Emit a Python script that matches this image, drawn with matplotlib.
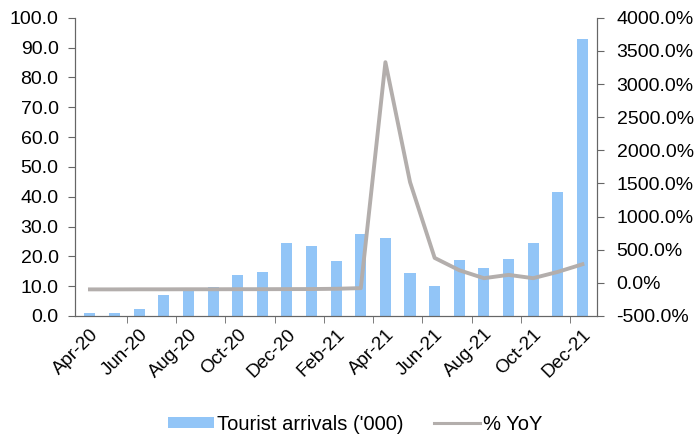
import numpy as np
import matplotlib.pyplot as plt
from matplotlib.ticker import FuncFormatter, FixedLocator

plt.rcParams['font.family'] = ['Liberation Sans', 'DejaVu Sans']

months = ['Apr-20', 'May-20', 'Jun-20', 'Jul-20', 'Aug-20', 'Sep-20', 'Oct-20',
          'Nov-20', 'Dec-20', 'Jan-21', 'Feb-21', 'Mar-21', 'Apr-21', 'May-21',
          'Jun-21', 'Jul-21', 'Aug-21', 'Sep-21', 'Oct-21', 'Nov-21', 'Dec-21']
arrivals = [1.0, 1.0, 2.3, 7.0, 9.0, 9.8, 13.7, 14.8, 24.3, 23.5, 18.3,
            27.5, 26.0, 14.5, 10.2, 18.8, 16.1, 19.0, 24.3, 41.5, 93.0]
yoy = [-99, -99, -98, -98, -97, -97, -96, -96, -95, -94, -90,
       -80, 3330, 1520, 376, 190, 70, 120, 70, 165, 280]

x = np.arange(len(months))
axis_grey = '#666666'

fig, ax = plt.subplots(figsize=(6.96, 4.45), dpi=100)
fig.subplots_adjust(left=0.108, right=0.858, top=0.96, bottom=0.29)

bars = ax.bar(x, arrivals, width=0.45, color='#92C5F7', label="Tourist arrivals ('000)", zorder=2)
ax.set_ylim(0, 100)
ax.set_yticks(np.arange(0, 101, 10))
ax.yaxis.set_major_formatter(FuncFormatter(lambda v, p: f'{v:.1f}'))
ax.set_xlim(-0.6, len(months) - 0.4)

# labels every other month, tick marks between category pairs
ax.set_xticks(x[::2])
ax.set_xticklabels(months[::2], rotation=45, ha='right', rotation_mode='anchor')
ax.tick_params(axis='x', length=0, pad=7, labelsize=13.5)
ax.xaxis.set_minor_locator(FixedLocator(np.arange(1.5, len(months), 2)))
ax.tick_params(axis='x', which='minor', length=5, color=axis_grey)
ax.tick_params(axis='y', length=5, color=axis_grey, labelsize=14, pad=7)

ax2 = ax.twinx()
line, = ax2.plot(x, yoy, color='#B3AEAC', lw=2.8, label='% YoY', zorder=3)
ax2.set_ylim(-500, 4000)
ax2.set_yticks(np.arange(-500, 4001, 500))
ax2.yaxis.set_major_formatter(FuncFormatter(lambda v, p: f'{v:.1f}%'))
ax2.tick_params(axis='y', length=5, color=axis_grey, labelsize=14, pad=9)

for a in (ax, ax2):
    a.spines['top'].set_visible(False)
    for s in ('left', 'right', 'bottom'):
        a.spines[s].set_color(axis_grey)
        a.spines[s].set_linewidth(0.8)

leg = fig.legend([bars, line], ["Tourist arrivals ('000)", '% YoY'], loc='lower center',
                 bbox_to_anchor=(0.51, -0.015), ncol=2, frameon=False, fontsize=14.5,
                 handlelength=2.3, handleheight=0.45, columnspacing=1.5, handletextpad=0.15)
leg.legend_handles[1].set_linewidth(2.2)

fig.savefig('out.png', dpi=100)
